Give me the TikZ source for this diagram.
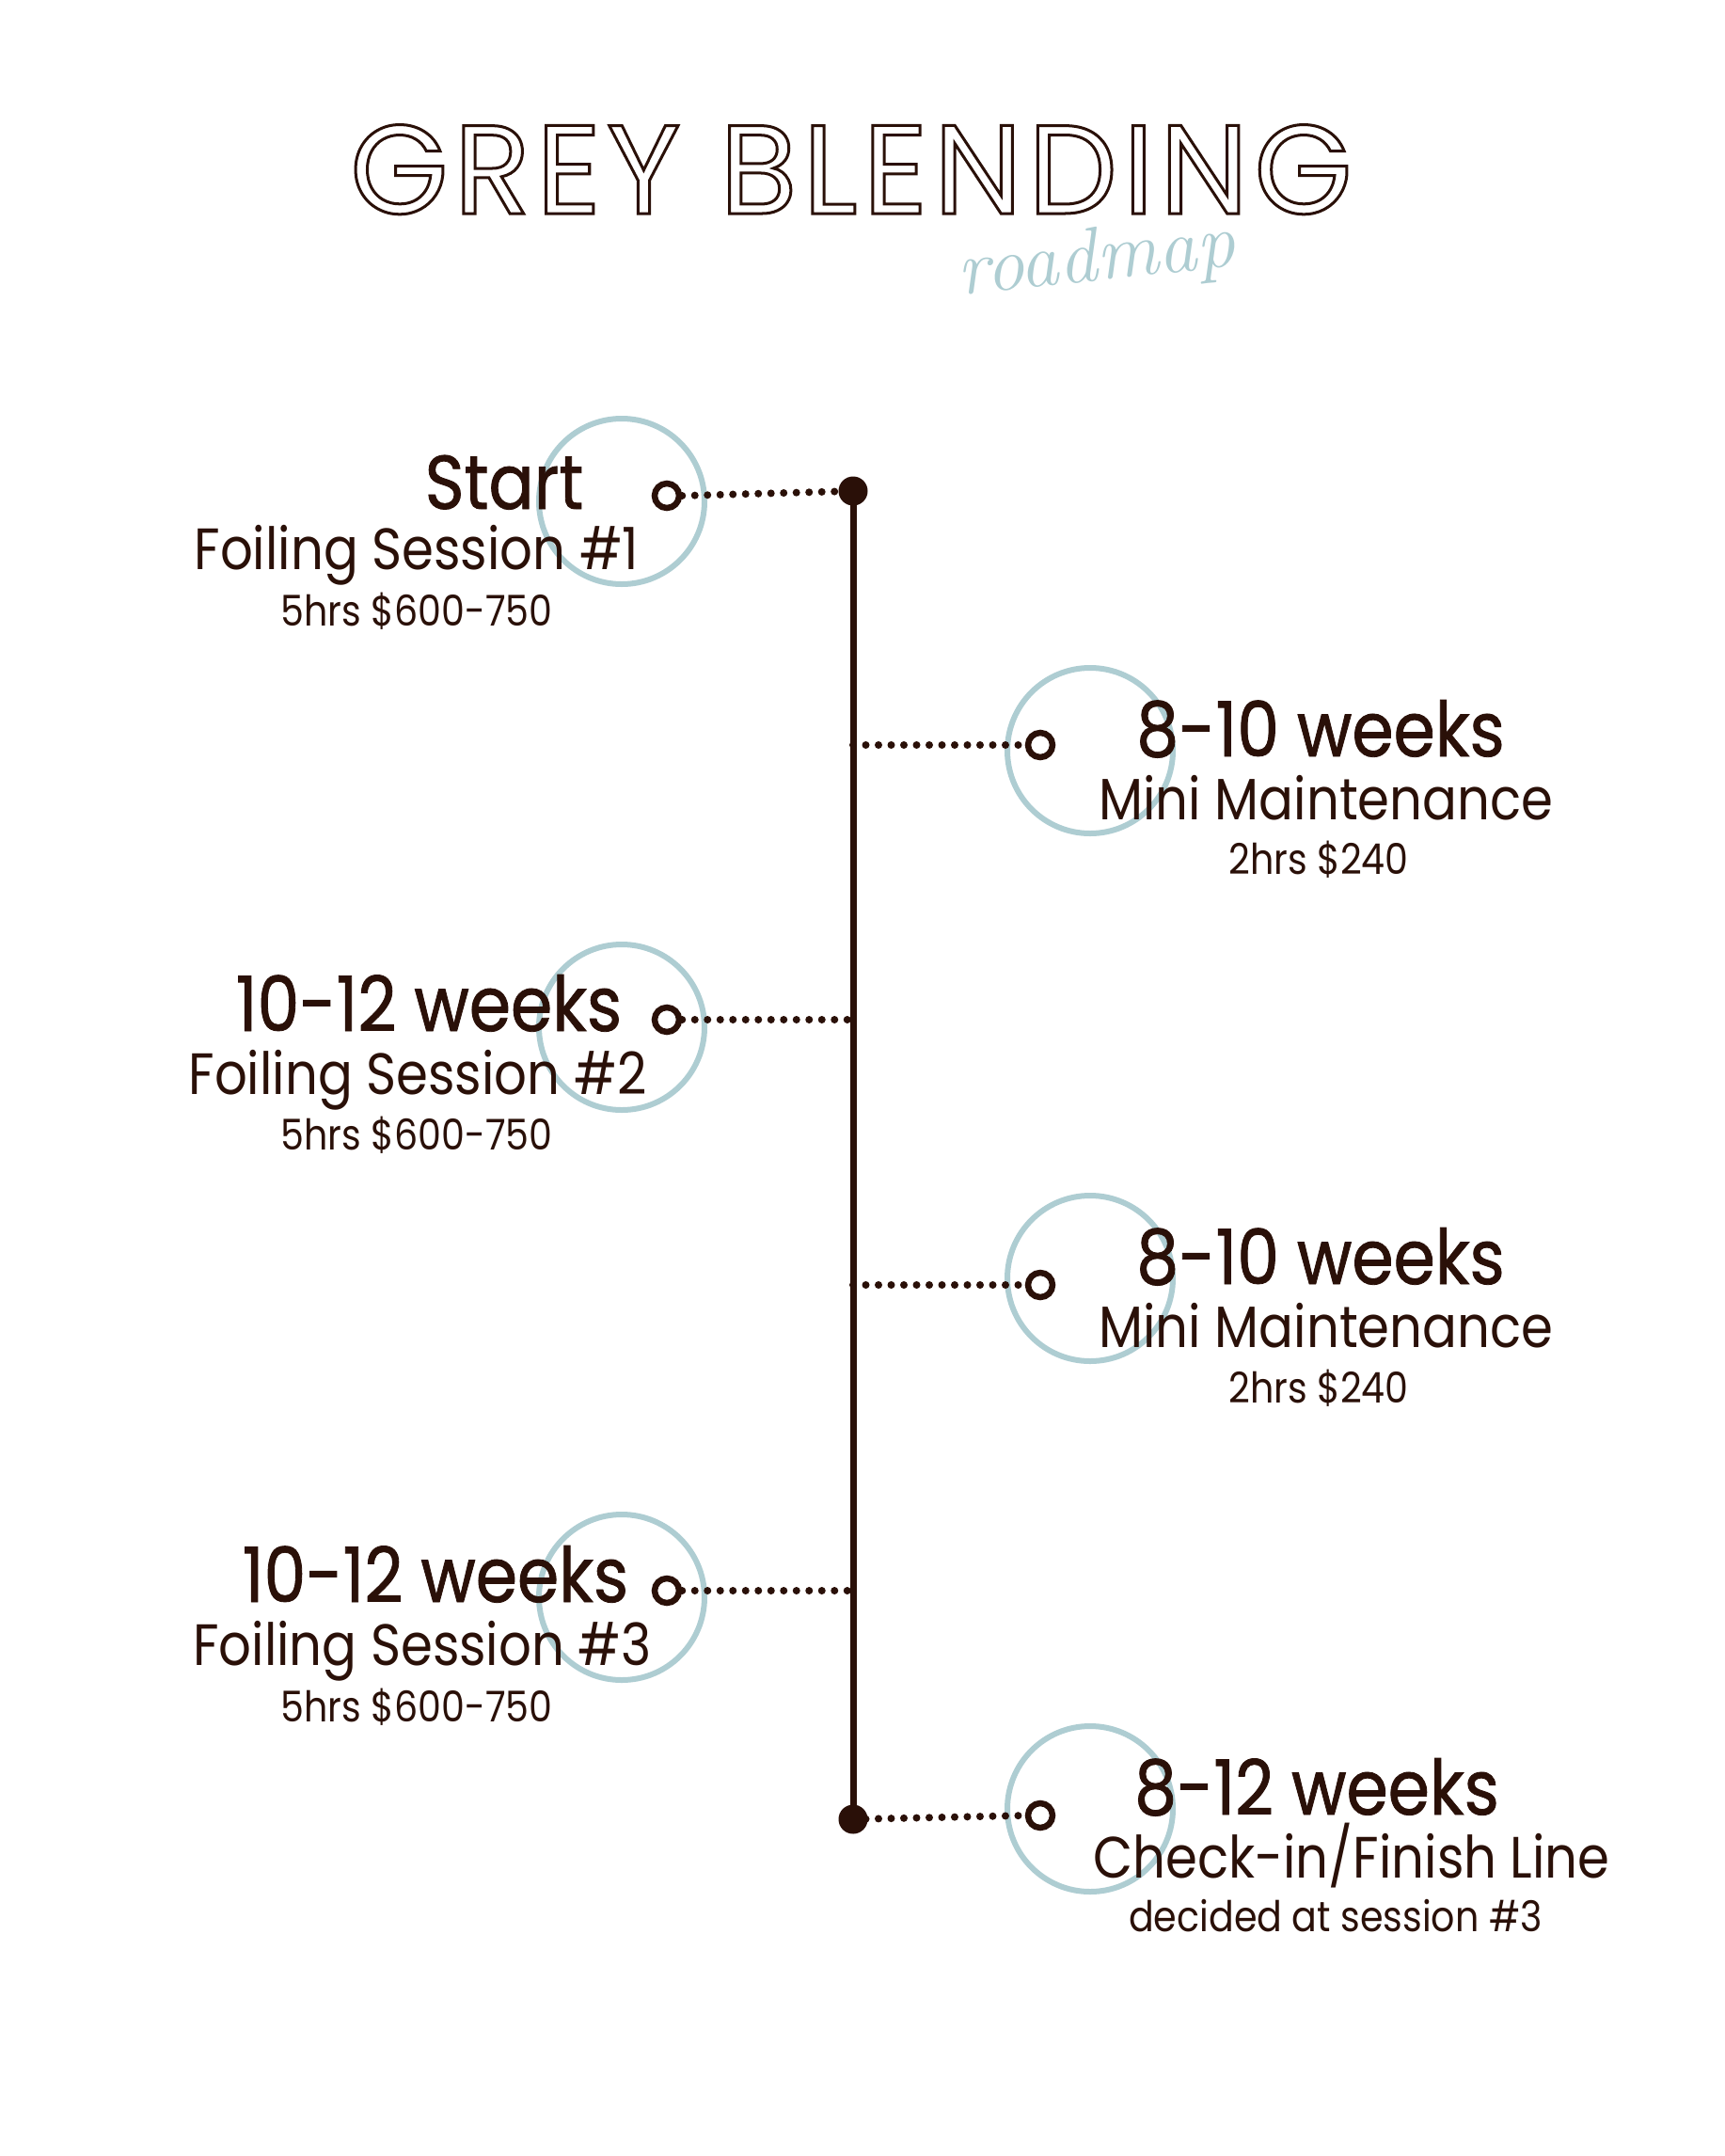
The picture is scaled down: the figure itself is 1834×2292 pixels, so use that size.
\documentclass[tikz,border=0pt]{standalone}
\usepackage{fontspec}
\setmainfont{Poppins}[FakeStretch=0.88]
\newfontfamily\titlefont{Poppins}[LetterSpace=4.6]
\newfontfamily\headfont{Poppins}[FakeStretch=0.88, FakeBold=1]
\definecolor{ink}{RGB}{42,16,8}
\definecolor{mist}{RGB}{174,205,210}
\newcommand\hollow[1]{\special{pdf:literal direct 1 Tr 3 w}#1\special{pdf:literal direct 0 Tr}}

\begin{document}
\begin{tikzpicture}[x=1pt, y=-1pt,
    ring/.style={circle, draw=mist, line width=6pt, minimum size=176pt, inner sep=0pt},
    knob/.style={circle, draw=ink, fill=white, line width=6.5pt, minimum size=26pt, inner sep=0pt},
    enddot/.style={circle, fill=ink, minimum size=31pt, inner sep=0pt},
    dots/.style={ink, line width=8pt, line cap=round, dash pattern=on 0pt off 13.5pt},
    head/.style={anchor=base, text=ink, inner sep=0pt, font=\headfont\fontsize{81}{86}\selectfont},
    sub/.style={anchor=base, text=ink, inner sep=0pt, font=\fontsize{62}{66}\selectfont},
    note/.style={anchor=base, text=ink, inner sep=0pt, font=\fontsize{45}{50}\selectfont}]

  \useasboundingbox[fill=white] (0,0) rectangle (1834,2292);

  % ================= title =================
  \node[anchor=base, text=ink, inner sep=0pt, font=\titlefont\fontsize{134}{140}\selectfont] (title) at (905,227) {\hollow{GREY BLENDING}};
  \node[anchor=base, text=mist, inner sep=0pt, rotate=6, font=\fontfamily{lmr}\fontsize{82}{82}\selectfont\itshape] (script) at (1168,298) {roadmap};

  % ================= rings =================
  \node[ring] (r1) at (661,533) {};
  \node[ring] (r2) at (1159,798) {};
  \node[ring] (r3) at (661,1092) {};
  \node[ring] (r4) at (1159,1359) {};
  \node[ring] (r5) at (661,1698) {};
  \node[ring] (r6) at (1159,1923) {};

  % ================= texts =================
  \node[head] (h1) at (536,541) {Start};
  \node[sub]  (b1) at (443,605) {Foiling Session \#1};
  \node[note] (n1) at (443,665) {5hrs \$600-750};

  \node[head] (h2) at (1404,804) {8-10 weeks};
  \node[sub]  (b2) at (1410,871) {Mini Maintenance};
  \node[note] (n2) at (1402,929) {2hrs \$240};

  \node[head] (h3) at (456,1096) {10-12 weeks};
  \node[sub]  (b3) at (444,1163) {Foiling Session \#2};
  \node[note] (n3) at (443,1222) {5hrs \$600-750};

  \node[head] (h4) at (1404,1365) {8-10 weeks};
  \node[sub]  (b4) at (1410,1432) {Mini Maintenance};
  \node[note] (n4) at (1402,1491) {2hrs \$240};

  \node[head] (h5) at (463,1703) {10-12 weeks};
  \node[sub]  (b5) at (449,1770) {Foiling Session \#3};
  \node[note] (n5) at (443,1830) {5hrs \$600-750};

  \node[head] (h6) at (1400,1929) {8-12 weeks};
  \node[sub]  (b6) at (1437,1996) {Check-in/Finish Line};
  \node[note] (n6) at (1420,2053) {decided at session \#3};

  % ================= spine =================
  \node[enddot] (top) at (907,522) {};
  \node[enddot] (bottom) at (907,1934) {};
  \draw[ink, line width=7pt] (top.center) -- (bottom.center);
  \coordinate (s1) at (907,522);
  \coordinate (s2) at (907,792);
  \coordinate (s3) at (907,1084);
  \coordinate (s4) at (907,1366);
  \coordinate (s5) at (907,1691);
  \coordinate (s6) at (907,1934);

  % ================= knobs and dotted links =================
  \node[knob] (k1) at (709,527) {};
  \node[knob] (k2) at (1106,792) {};
  \node[knob] (k3) at (709,1084) {};
  \node[knob] (k4) at (1106,1366) {};
  \node[knob] (k5) at (709,1691) {};
  \node[knob] (k6) at (1106,1930) {};

  \draw[dots] (k1.east) -- (s1);
  \draw[dots] (s2) -- (k2.west);
  \draw[dots] (k3.east) -- (s3);
  \draw[dots] (s4) -- (k4.west);
  \draw[dots] (k5.east) -- (s5);
  \draw[dots] (s6) -- (k6.west);

\end{tikzpicture}
\end{document}
